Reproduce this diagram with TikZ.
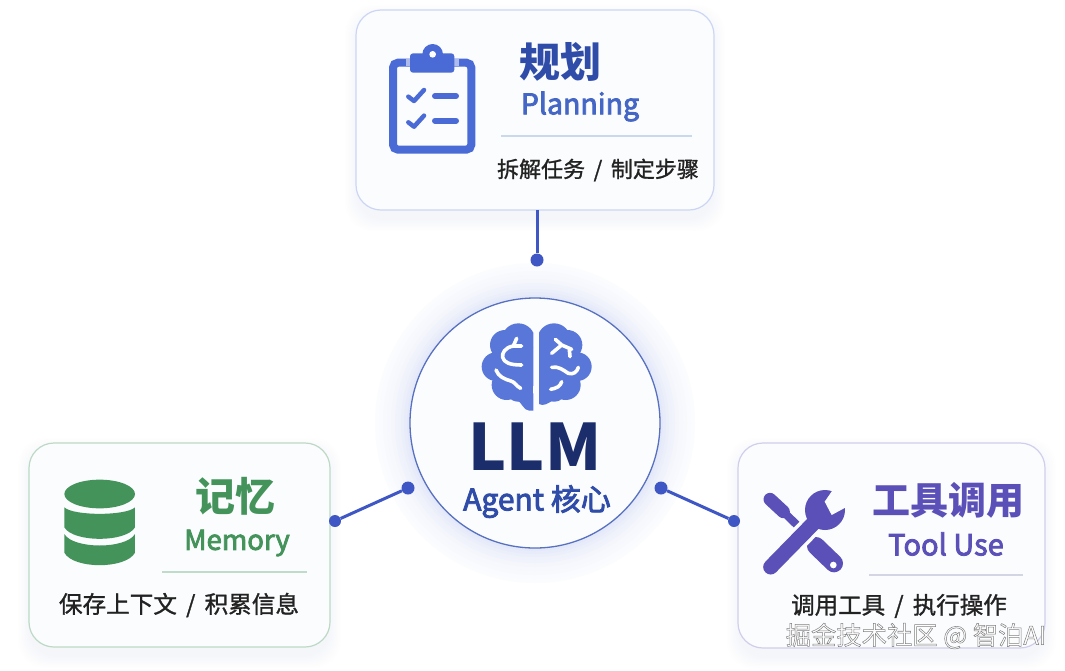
\documentclass[tikz,border=0pt]{standalone}
\usepackage{fontspec}
\setmainfont{Noto Sans CJK SC}
\newfontfamily\medfont{Noto Sans CJK SC}[FakeBold=1.2]
\newfontfamily\subfont{Noto Sans CJK SC}[FakeBold=2.8]
\definecolor{cardfill}{HTML}{FBFCFE}
\definecolor{blueA}{HTML}{4A6BD6}
\definecolor{blueT}{HTML}{2F4CA8}
\definecolor{blueP}{HTML}{4466C4}
\definecolor{navy}{HTML}{1B2D6B}
\definecolor{link}{HTML}{3E57C4}
\definecolor{greenA}{HTML}{43935A}
\definecolor{purpleA}{HTML}{5B4FB8}
\definecolor{ink}{HTML}{222222}
\definecolor{shade}{HTML}{8FA0C8}
\definecolor{ruleblue}{HTML}{C9D8EA}
\definecolor{rulegreen}{HTML}{BFDCCB}
\definecolor{rulegray}{HTML}{D3D5E2}
\tikzset{
  x=1pt,y=-1pt,
  card/.style={rectangle,rounded corners=25pt,fill=cardfill,line width=1.2pt,inner sep=0pt},
  dotnode/.style={circle,fill=link,inner sep=0pt,minimum size=13pt},
  linkline/.style={link,line width=3pt},
  rulel/.style={line width=1.3pt},
  txt/.style={inner sep=0pt,anchor=center},
  white line/.style={white,line width=3.6pt,line cap=round,line join=round},
}
\newcommand{\softshadow}[4]{% x1 y1 x2 y2 : solid rings fading to white
  \foreach \k/\p in {9/1,8/2,7/3,6/4,5/5,4/6,3/7,2/8,1/9,0/10}{
    \fill[shade!\p!white,rounded corners=27pt]
      (#1-\k*1.4+2,#2-\k*1.4+8) rectangle (#3+\k*1.4-2,#4+\k*1.4+8);
  }}
\begin{document}
\begin{tikzpicture}
\useasboundingbox[fill=white] (0,0) rectangle (1065,670);

% halo
\foreach \r/\p in {160/2,156/3,152/4,148/5,144/6,140/8,137/9,134/11,131/13,128/15}{
  \fill[blueA!\p!white] (535,423) circle[radius=\r pt];
}

% shadows
\softshadow{356}{10}{714}{210}
\softshadow{29}{443}{330}{647}
\softshadow{738}{443}{1045}{648}

% main nodes
\node[card,draw=blueA!28,minimum width=358pt,minimum height=200pt] (planning) at (535,110) {};
\node[card,draw=greenA!35,minimum width=301pt,minimum height=204pt] (memory) at (179.5,545) {};
\node[card,draw=purpleA!28,minimum width=307pt,minimum height=205pt] (tool) at (891.5,545.5) {};
\node[circle,fill=cardfill,draw=blueA!75!gray,line width=1.3pt,inner sep=0pt,minimum size=250pt] (core) at (535,423) {};

% dots and connectors
\node[dotnode] (dotT) at (537,260) {};
\node[dotnode] (dotL) at (408,488) {};
\node[dotnode,minimum size=12pt] (dotM) at (335,521) {};
\node[dotnode] (dotR) at (661,488) {};
\node[dotnode,minimum size=12pt] (dotU) at (734,521) {};
\draw[linkline] (537,210) -- (dotT);
\draw[linkline] (dotL) -- (dotM);
\draw[linkline] (dotR) -- (dotU);

% ---------- clipboard
\begin{scope}[shift={(340,0)},scale=1/3]
  \draw[blueA,line width=8pt,rounded corners=5pt] (159,188) rectangle (394,449);
  \fill[blueA!45!white] (198,178) rectangle (210,198);
  \fill[blueA!45!white] (343,178) rectangle (357,198);
  \fill[blueA,rounded corners=3pt] (210,160) rectangle (343,218);
  \fill[blueA] (278,163) circle[radius=31pt];
  \fill[white] (278,163) circle[radius=10pt];
  \draw[blueA,line width=4.5pt,line join=round,line cap=round] (205,290) -- (222,303) -- (252,270);
  \draw[blueA,line width=4.5pt,line join=round,line cap=round] (205,367) -- (222,380) -- (252,347);
  \draw[blueA,line width=6pt,line cap=round] (285,288) -- (348,288);
  \draw[blueA,line width=6pt,line cap=round] (285,362) -- (348,362);
\end{scope}

% ---------- brain
\begin{scope}[shift={(370,260)},scale=1/3]
  \begin{scope}
    \clip (300,150) rectangle (490,460);
    \fill[blueA!92!white] (445,240) circle[radius=50pt];
    \fill[blueA!92!white] (405,255) circle[radius=45pt];
    \fill[blueA!92!white] (378,320) circle[radius=43pt];
    \fill[blueA!92!white] (410,375) circle[radius=45pt];
    \fill[blueA!92!white] (450,320) circle[radius=70pt];
    \fill[blueA!92!white] (445,385) circle[radius=40pt];
    \fill[blueA!92!white] (440,300) rectangle (490,410);
    \fill[blueA!92!white] (440,420) .. controls (455,425) and (460,452) .. (478,452) -- (490,452) -- (490,400) -- cycle;
  \end{scope}
  \begin{scope}
    \clip (507,150) rectangle (700,460);
    \fill[blueA!92!white] (552,240) circle[radius=50pt];
    \fill[blueA!92!white] (592,255) circle[radius=45pt];
    \fill[blueA!92!white] (622,320) circle[radius=43pt];
    \fill[blueA!92!white] (587,375) circle[radius=45pt];
    \fill[blueA!92!white] (547,320) circle[radius=70pt];
    \fill[blueA!92!white] (552,385) circle[radius=40pt];
    \fill[blueA!92!white] (507,300) rectangle (550,410);
    \fill[blueA!92!white] (507,400) -- (507,432) .. controls (520,440) and (535,430) .. (550,420) -- cycle;
  \end{scope}
  \begin{scope}[white line]
    \draw (440,235) -- (430,258);
    \draw (455,258) -- (430,258) .. controls (405,262) and (395,280) .. (398,292)
      .. controls (402,308) and (420,315) .. (455,315);
    \draw (378,330) .. controls (385,350) and (405,358) .. (420,362) .. controls (435,365) and (440,380) .. (452,385);
    \draw (556,238) -- (575,255) -- (605,268);
    \draw (575,255) -- (545,280);
    \draw (598,268) -- (600,290);
    \draw (545,322) .. controls (565,318) and (580,330) .. (595,340) .. controls (610,345) and (622,335) .. (625,322);
    \draw (542,388) .. controls (560,385) and (572,378) .. (575,365);
  \end{scope}
\end{scope}

% ---------- database
\begin{scope}[shift={(10,430)},scale=1/3]
  \fill[greenA] (269,192) ellipse[x radius=106pt,y radius=43pt];
  \fill[greenA] (163,232) .. controls (190,258) and (348,258) .. (375,232)
    -- (375,292) .. controls (348,338) and (190,338) .. (163,292) -- cycle;
  \fill[greenA] (163,312) .. controls (190,358) and (348,358) .. (375,312)
    -- (375,368) .. controls (348,418) and (190,418) .. (163,368) -- cycle;
\end{scope}

% ---------- tools
\begin{scope}[shift={(720,430)},scale=1/3]
  \draw[purpleA,line width=13pt,line cap=round] (150,208) -- (190,245);
  \draw[purpleA,line width=8pt] (188,243) -- (290,343);
  \draw[purpleA,line width=18pt,line cap=round] (288,348) -- (342,400);
  \fill[white] (340,405) circle[radius=10pt];
  \draw[cardfill,line width=22pt] (165,398) -- (285,275);
  \draw[purpleA,line width=15pt,line cap=round] (152,411) -- (285,275);
  \fill[purpleA] (315,240) circle[radius=60pt];
  \fill[cardfill] (345,170) -- (314,215) -- (335,255) -- (385,228) -- (390,170) -- cycle;
\end{scope}

% ---------- dividers
\draw[rulel,ruleblue] (501,136) -- (692,136);
\draw[rulel,rulegreen] (162,572) -- (307,572);
\draw[rulel,rulegray] (869,575) -- (1023,575);

% ---------- text
\node[txt,text=blueT,font=\bfseries\fontsize{41}{44}\selectfont] (t1) at (560,62) {规划};
\node[txt,text=blueP,font=\subfont\fontsize{28.5}{32}\selectfont] (t2) at (580,106.5) {Planning};
\node[txt,text=ink,font=\medfont\fontsize{22}{27}\selectfont] (t3) at (598,170) {拆解任务 \,/\, 制定步骤};

\node[txt,text=navy,font=\bfseries\fontsize{64}{68}\selectfont] (t4) at (535,447) {LLM};
\node[txt,text=blueT,font=\subfont\fontsize{30}{34}\selectfont] (t5) at (537,501.5) {Agent 核心};

\node[txt,text=greenA,font=\bfseries\fontsize{40}{44}\selectfont] (t6) at (235,496) {记忆};
\node[txt,text=greenA,font=\subfont\fontsize{27.5}{31}\selectfont] (t7) at (237,543) {Memory};
\node[txt,text=ink,font=\medfont\fontsize{23.6}{28}\selectfont] (t8) at (179,605) {保存上下文 \,/\, 积累信息};

\node[txt,text=purpleA,font=\bfseries\fontsize{38}{42}\selectfont] (t9) at (948,500) {工具调用};
\node[txt,text=purpleA,font=\subfont\fontsize{29}{31}\selectfont] (t10) at (946,544) {Tool Use};
\node[txt,text=ink,font=\medfont\fontsize{23.5}{27}\selectfont] (t11) at (899,606) {调用工具 \,/\, 执行操作};

\node[txt,font=\fontsize{25.3}{27}\selectfont] (wm) at (916,636)
  {\special{pdf:code q 2 Tr 0.5 w 0.5 G 1 g}掘金技术社区 @ 智泊AI\special{pdf:code Q}};
\end{tikzpicture}
\end{document}
